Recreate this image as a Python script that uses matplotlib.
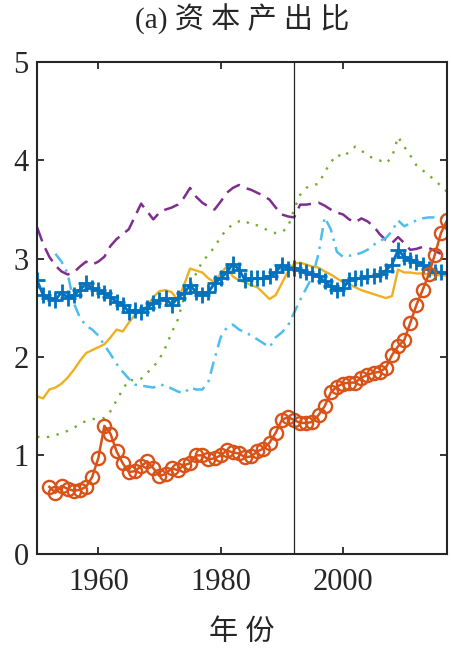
import numpy as np
import matplotlib
matplotlib.use('Agg')
import matplotlib.pyplot as plt

plt.rcParams['font.family'] = ['Liberation Serif', 'Noto Sans CJK SC']

years_blue = list(range(1950, 2018))
blue = [2.78, 2.63, 2.60, 2.58, 2.66, 2.60, 2.63, 2.68, 2.75, 2.70,
        2.68, 2.65, 2.61, 2.56, 2.53, 2.46, 2.48, 2.46, 2.50, 2.55,
        2.58, 2.60, 2.53, 2.60, 2.65, 2.73, 2.66, 2.63, 2.66, 2.75,
        2.80, 2.86, 2.95, 2.89, 2.78, 2.80, 2.80, 2.80, 2.82, 2.86,
        2.94, 2.90, 2.91, 2.89, 2.86, 2.84, 2.82, 2.77, 2.72, 2.68,
        2.70, 2.78, 2.80, 2.80, 2.82, 2.82, 2.84, 2.88, 2.94, 3.09,
        3.02, 2.99, 2.97, 2.94, 2.90, 2.87, 2.86, 2.85]

years_orange = list(range(1952, 2018))
orange = [0.68, 0.62, 0.69, 0.66, 0.64, 0.65, 0.68, 0.78, 0.97, 1.30,
          1.22, 1.04, 0.92, 0.83, 0.84, 0.89, 0.94, 0.87, 0.79, 0.81,
          0.87, 0.85, 0.90, 0.92, 1.00, 1.00, 0.96, 0.97, 1.00, 1.05,
          1.03, 1.02, 0.98, 0.99, 1.04, 1.07, 1.13, 1.23, 1.36, 1.39,
          1.36, 1.33, 1.33, 1.34, 1.41, 1.50, 1.64, 1.70, 1.73, 1.74,
          1.74, 1.79, 1.82, 1.84, 1.85, 1.89, 2.02, 2.11, 2.17, 2.35,
          2.53, 2.68, 2.84, 3.04, 3.26, 3.39]

years_yellow = list(range(1950, 2018))
yellow = [1.60, 1.58, 1.67, 1.69, 1.73, 1.79, 1.87, 1.96, 2.04, 2.07,
          2.10, 2.13, 2.20, 2.28, 2.26, 2.35, 2.43, 2.47, 2.52, 2.61,
          2.67, 2.68, 2.66, 2.58, 2.73, 2.90, 2.88, 2.86, 2.80, 2.76,
          2.85, 2.92, 2.82, 2.78, 2.76, 2.73, 2.71, 2.65, 2.59, 2.63,
          2.75, 2.87, 2.95, 2.96, 2.94, 2.92, 2.91, 2.87, 2.84, 2.80,
          2.76, 2.74, 2.71, 2.68, 2.66, 2.64, 2.62, 2.60, 2.62, 2.89,
          2.86, 2.86, 2.85, 2.85, 2.84, 2.84, 2.83, 2.83]

years_purple = list(range(1950, 2017))
purple = [3.32, 3.15, 3.02, 2.93, 2.87, 2.84, 2.86, 2.92, 2.97, 2.94,
          2.97, 3.02, 3.13, 3.20, 3.25, 3.30, 3.43, 3.56, 3.48, 3.40,
          3.47, 3.50, 3.52, 3.55, 3.62, 3.72, 3.63, 3.57, 3.53, 3.50,
          3.58, 3.67, 3.72, 3.75, 3.72, 3.70, 3.67, 3.64, 3.60, 3.52,
          3.45, 3.43, 3.42, 3.55, 3.55, 3.56, 3.57, 3.54, 3.50, 3.47,
          3.45, 3.40, 3.37, 3.41, 3.38, 3.33, 3.25, 3.19, 3.16, 3.22,
          3.16, 3.09, 3.10, 3.12, 3.11, 3.08, 3.05]

years_green = list(range(1950, 2018))
green = [1.19, 1.18, 1.19, 1.21, 1.22, 1.25, 1.28, 1.32, 1.35, 1.37,
         1.37, 1.38, 1.45, 1.56, 1.67, 1.77, 1.76, 1.78, 1.84, 1.90,
         1.98, 2.10, 2.25, 2.38, 2.60, 2.72, 2.85, 2.97, 3.04, 3.12,
         3.22, 3.30, 3.35, 3.38, 3.39, 3.34, 3.34, 3.31, 3.28, 3.26,
         3.27, 3.32, 3.50, 3.65, 3.72, 3.75, 3.76, 3.88, 3.98, 4.06,
         4.03, 4.09, 4.14, 4.10, 4.05, 4.02, 4.00, 3.97, 4.03, 4.24,
         4.14, 4.05, 3.95, 3.90, 3.85, 3.80, 3.74, 3.68]

years_cyan = list(range(1953, 2018))
cyan = [3.05, 2.97, 2.85, 2.55, 2.40, 2.32, 2.28, 2.22, 2.12, 2.03,
        1.93, 1.85, 1.78, 1.72, 1.71, 1.70, 1.69, 1.72, 1.71, 1.68,
        1.65, 1.63, 1.69, 1.67, 1.67, 1.75, 1.98, 2.20, 2.30, 2.33,
        2.28, 2.25, 2.22, 2.18, 2.14, 2.10, 2.20, 2.25, 2.32, 2.45,
        2.58, 2.70, 2.82, 3.05, 3.42, 3.30, 3.07, 3.02, 3.03, 3.04,
        3.06, 3.09, 3.14, 3.18, 3.21, 3.28, 3.39, 3.33, 3.36, 3.39,
        3.41, 3.42, 3.42, 3.42, 3.42]

fig = plt.figure(figsize=(4.52, 6.53), dpi=100)
ax = fig.add_axes([0.082, 0.152, 0.907, 0.753])

ax.plot(years_purple, purple, color='#7E2F8E', linewidth=1.8, dashes=(6, 3))
ax.plot(years_green, green, color='#77AC30', linewidth=1.7, dashes=(1, 3.2))
ax.plot(years_cyan, cyan, color='#4DBEEE', linewidth=1.8, dashes=(5, 2.5, 1, 2.5))
ax.plot(years_yellow, yellow, color='#EDB120', linewidth=1.7)
ax.plot(years_blue, blue, color='#0072BD', linewidth=2.0, marker='+',
        markersize=11, markeredgewidth=2.0)
ax.plot(years_orange, orange, color='#D95319', linewidth=1.8, marker='o',
        markersize=9.5, markerfacecolor='none', markeredgewidth=1.7)
ax.axvline(1992, color='#262626', linewidth=0.9)

ax.set_xlim(1950, 2017)
ax.set_ylim(0, 5)
ax.set_xticks([1960, 1980, 2000])
ax.set_yticks([0, 1, 2, 3, 4, 5])
ax.tick_params(direction='in', top=True, right=True, length=5, width=1.3,
               labelsize=22, colors='#262626')
ax.tick_params(axis='x', pad=10)
ax.tick_params(axis='y', pad=6)
for s in ax.spines.values():
    s.set_linewidth(1.5)
    s.set_color('#262626')

ax.set_title('(a) 资 本 产 出 比', fontsize=21, color='#262626', pad=24)
ax.set_xlabel('年 份', fontsize=21, color='#262626', labelpad=16)

fig.savefig('out.png', dpi=100)
